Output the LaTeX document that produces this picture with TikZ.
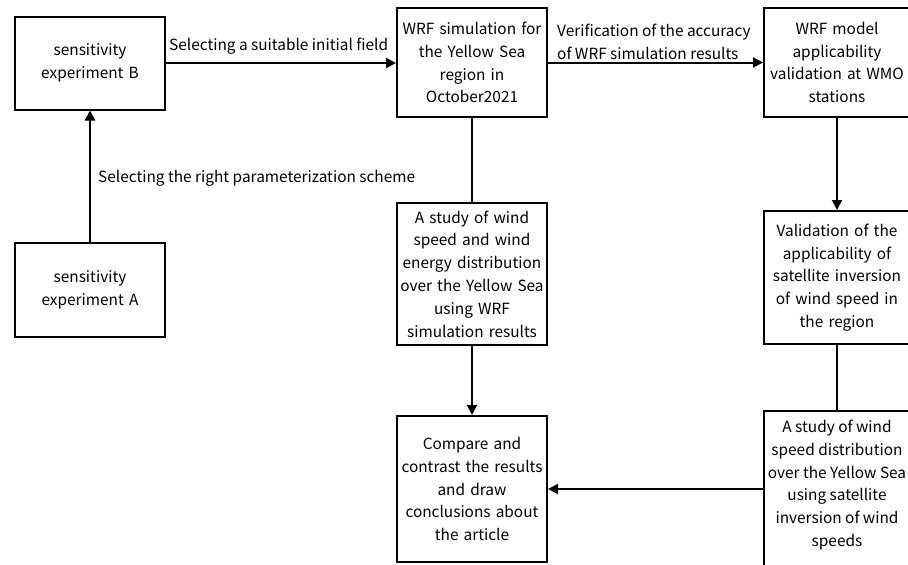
\documentclass[tikz,border=0pt]{standalone}
\usepackage{fontspec}
\setmainfont{Noto Sans CJK SC}
\usetikzlibrary{arrows.meta}
\begin{document}
\begin{tikzpicture}[x=1pt,y=-1pt,
  box/.style={draw, line width=2pt, minimum width=150pt, inner sep=0pt, align=center, text width=146pt, font=\fontsize{15.4}{22.8}\selectfont},
  lbl/.style={font=\fontsize{15.4}{22.8}\selectfont, inner sep=0pt},
  arr/.style={line width=2pt, -{Triangle[length=10pt,width=10pt]}},
  ln/.style={line width=2pt}]
\useasboundingbox (0,0) rectangle (908,565);
\begin{scope}
\clip (0,0) rectangle (908,565);
\node[box, minimum height=93pt] (B) at (90,63) {sensitivity\\experiment B};
\node[box, minimum height=94pt] (A) at (90,290) {sensitivity\\experiment A};
\node[box, minimum height=109pt] (W) at (472,62.5) {WRF simulation for\\the Yellow Sea\\region in\\October2021};
\node[box, minimum height=109pt, minimum width=146pt] (M) at (837,62.5) {WRF model\\applicability\\validation at WMO\\stations};
\node[box, minimum height=133pt, minimum width=146pt] (V) at (837,277.5) {Validation of the\\applicability of\\satellite inversion\\of wind speed in\\the region};
\node[box, minimum height=142pt] (S) at (472,274) {A study of wind\\speed and wind\\energy distribution\\over the Yellow Sea\\using WRF\\simulation results};
\node[box, minimum height=146pt] (C) at (472,489) {Compare and\\contrast the results\\and draw\\conclusions about\\the article};
\node[box, minimum height=170pt, minimum width=146pt] (T) at (837,496) {};
\node[lbl, align=center] (Tt) at (837,485) {A study of wind\\speed distribution\\over the Yellow Sea\\using satellite\\inversion of wind\\speeds};
\end{scope}
\draw[arr] (A) -- (B);
\draw[arr] (B.east) -- (W.west |- B.east);
\draw[arr] (W.east) -- (M.west);
\draw[ln] (W) -- (S);
\draw[arr] (S) -- (C);
\draw[arr] (M) -- (V);
\draw[ln] (V) -- (T.north);
\draw[arr] (T.west |- C.east) -- (C.east);
\node[lbl, anchor=west] (l1) at (169,46) {Selecting a suitable initial field};
\node[lbl, anchor=west] (l2) at (98,178) {Selecting the right parameterization scheme};
\node[lbl, anchor=west, align=left] (l3) at (557,42) {Verification of the accuracy\\of WRF simulation results};
\end{tikzpicture}
\end{document}
